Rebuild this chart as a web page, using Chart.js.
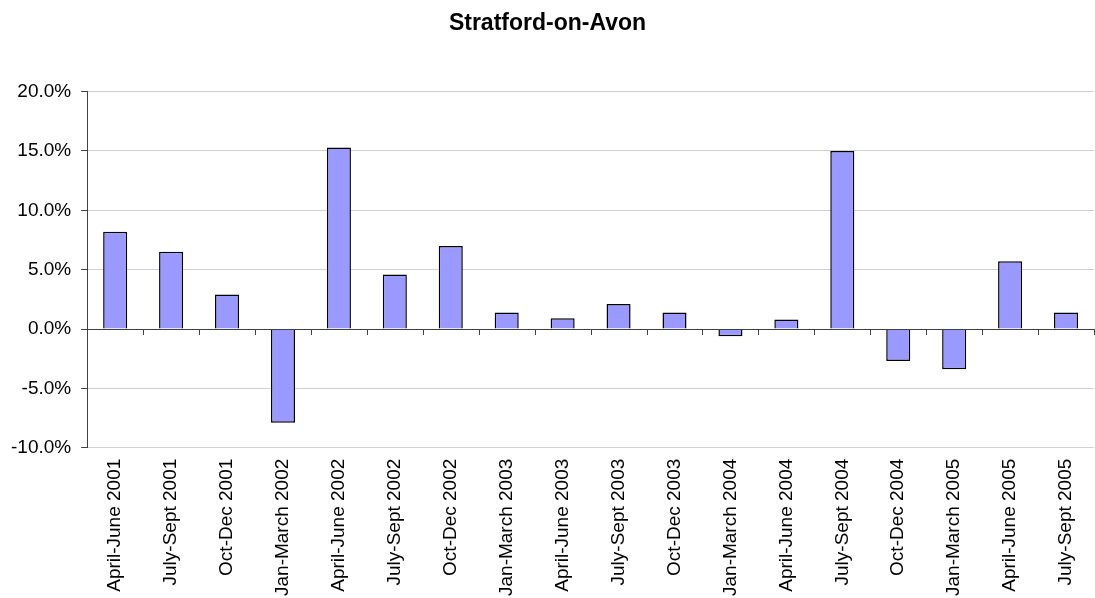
<!DOCTYPE html>
<html>
<head>
<meta charset="utf-8">
<script src="https://cdn.jsdelivr.net/npm/chart.js@4"></script>
<style>
  html, body { margin: 0; padding: 0; background: #fff; }
  #wrap { width: 1095px; height: 598px; }
</style>
</head>
<body>
<div id="wrap"><canvas id="chart" width="1095" height="598"></canvas></div>
<script>
var quarters = [
    "April-June 2001", "July-Sept 2001", "Oct-Dec 2001", "Jan-March 2002",
    "April-June 2002", "July-Sept 2002", "Oct-Dec 2002", "Jan-March 2003",
    "April-June 2003", "July-Sept 2003", "Oct-Dec 2003", "Jan-March 2004",
    "April-June 2004", "July-Sept 2004", "Oct-Dec 2004", "Jan-March 2005",
    "April-June 2005", "July-Sept 2005"
];

// percentage change per quarter
var changes = [
    8.2, 6.5, 2.9, -7.9,
    15.3, 4.6, 7.0, 1.4,
    0.9, 2.1, 1.4, -0.6,
    0.8, 15.0, -2.7, -3.4,
    5.7, 1.4
];

var yTicks = [-10, -5, 0, 5, 10, 15, 20];

// small tick marks hanging below the zero line, between categories
var zeroTicks = {
    id: "zeroTicks",
    afterDatasetsDraw: function(chart) {
        var x = chart.scales.x;
        var y0 = Math.round(chart.scales.y.getPixelForValue(0));
        var ctx = chart.ctx;
        ctx.save();
        ctx.strokeStyle = "#404040";
        ctx.lineWidth = 1;
        ctx.beginPath();
        for (var i = 0; i <= quarters.length; i++) {
            var px = Math.round(x.getPixelForValue(i - 0.5)) + 0.5;
            ctx.moveTo(px, y0);
            ctx.lineTo(px, y0 + 6);
        }
        ctx.moveTo(x.left, y0 + 0.5);
        ctx.lineTo(x.right, y0 + 0.5);
        ctx.stroke();
        ctx.restore();
    }
};

new Chart(document.getElementById("chart"), {
    type: "bar",
    data: {
        labels: quarters,
        datasets: [{
            data: changes,
            backgroundColor: "#9999ff",
            borderColor: "#000000",
            borderWidth: 1.5,
            barPercentage: 0.43,
            categoryPercentage: 1.0
        }]
    },
    plugins: [zeroTicks],
    options: {
        responsive: false,
        animation: false,
        layout: { padding: { left: 1, right: 1, bottom: -9 } },
        plugins: {
            legend: { display: false },
            tooltip: { enabled: false },
            title: {
                display: true,
                text: "Stratford-on-Avon",
                color: "#000",
                font: { family: "Liberation Sans, Arial", size: 23, weight: "bold" },
                padding: { top: 10, bottom: 54 }
            }
        },
        scales: {
            x: {
                afterFit: function(scale) {
                    scale.paddingRight = 0;
                },
                grid: { display: false, drawTicks: false },
                border: { display: false },
                ticks: {
                    color: "#000",
                    font: { family: "Liberation Sans, Arial", size: 19 },
                    minRotation: 90,
                    maxRotation: 90,
                    autoSkip: false,
                    padding: 11
                }
            },
            y: {
                min: -10,
                max: 20,
                afterBuildTicks: function(axis) {
                    axis.ticks = yTicks.map(function(v) { return { value: v }; });
                },
                grid: {
                    color: "#d0d0d0",
                    tickColor: "#404040",
                    tickLength: 6
                },
                border: { color: "#404040", width: 1 },
                ticks: {
                    color: "#000",
                    font: { family: "Liberation Sans, Arial", size: 19 },
                    padding: 10,
                    callback: function(v) { return v.toFixed(1) + "%"; }
                }
            }
        }
    }
});
</script>
</body>
</html>
